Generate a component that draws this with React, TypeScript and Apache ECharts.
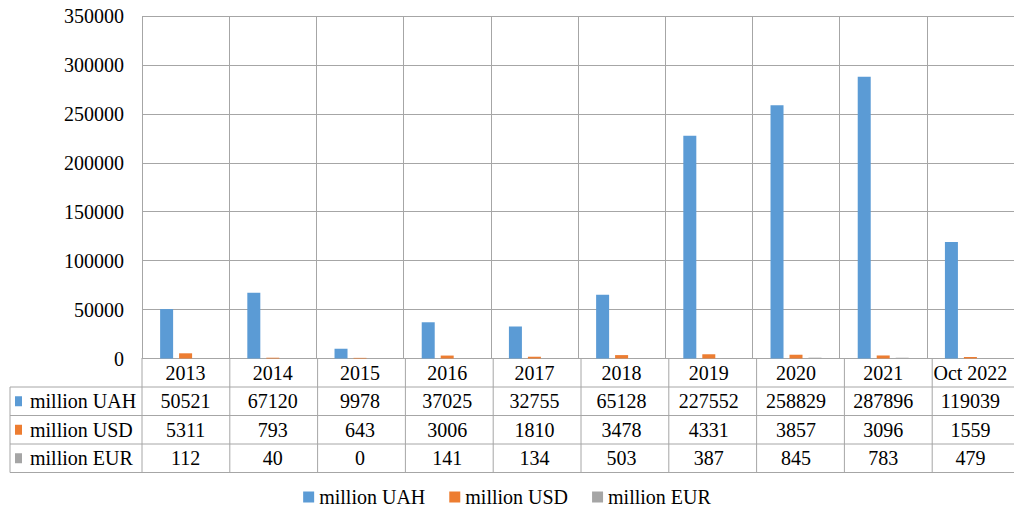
import React, { useEffect, useRef } from "react";
import * as echarts from "echarts";

const categories = ["2013", "2014", "2015", "2016", "2017", "2018", "2019", "2020", "2021", "Oct 2022"];
const seriesNames = ["million UAH", "million USD", "million EUR"];
const uah = [50521, 67120, 9978, 37025, 32755, 65128, 227552, 258829, 287896, 119039];
const usd = [5311, 793, 643, 3006, 1810, 3478, 4331, 3857, 3096, 1559];
const eur = [112, 40, 0, 141, 134, 503, 387, 845, 783, 479];
const colors = ["#5B9BD5", "#ED7D31", "#A5A5A5"];

const FONT = "Liberation Serif";
const FS = 20;
const GRID_LEFT = 142;
const GRID_TOP = 16;
const GRID_W = 878;
const AXIS_Y = 358.5;
const ROW_H = 28.5;
const TABLE_LEFT = 10;
const LINE_COLOR = "#a6a6a6";

export default function App() {
  const ref = useRef<HTMLDivElement>(null);
  useEffect(() => {
    if (!ref.current) return;
    const chart = echarts.init(ref.current, null, { renderer: "svg" });
    const allSeries = [uah, usd, eur];
    chart.setOption({
      animation: false,
      textStyle: { fontFamily: FONT },
      legend: {
        data: seriesNames,
        left: "center",
        top: 487,
        padding: 0,
        itemWidth: 11,
        itemHeight: 11,
        itemGap: 24,
        icon: "rect",
        textStyle: { fontFamily: FONT, fontSize: FS, color: "#000" },
      },
      grid: { left: GRID_LEFT, top: GRID_TOP, width: GRID_W, height: AXIS_Y - GRID_TOP },
      xAxis: {
        type: "category",
        data: categories,
        boundaryGap: true,
        axisTick: { show: false },
        axisLine: { lineStyle: { color: LINE_COLOR, width: 1 } },
        splitLine: { show: true, interval: 0, lineStyle: { color: LINE_COLOR, width: 1 } },
        axisLabel: { interval: 0, margin: 5, fontFamily: FONT, fontSize: FS, color: "#000", lineHeight: 19 },
      },
      yAxis: {
        type: "value",
        min: 0,
        max: 350000,
        interval: 50000,
        axisLine: { show: false },
        axisTick: { show: false },
        splitLine: { lineStyle: { color: LINE_COLOR, width: 1 } },
        axisLabel: { margin: 18, fontFamily: FONT, fontSize: FS, color: "#000", formatter: (v: number) => String(v) },
      },
      series: seriesNames.map((n, i) => ({
        name: n,
        type: "bar",
        data: allSeries[i],
        barWidth: 13,
        barGap: "46%",
        itemStyle: { color: colors[i] },
      })),
    });

    const graphics: any[] = [];
    const right = 1014;
    const rowsTop = AXIS_Y + ROW_H;
    for (let r = 0; r <= 3; r++) {
      const y = rowsTop + r * ROW_H;
      graphics.push({
        type: "line",
        shape: { x1: TABLE_LEFT, y1: y, x2: right, y2: y },
        style: { stroke: LINE_COLOR, lineWidth: 1 },
      });
    }
    graphics.push({
      type: "line",
      shape: { x1: TABLE_LEFT, y1: rowsTop, x2: TABLE_LEFT, y2: rowsTop + 3 * ROW_H },
      style: { stroke: LINE_COLOR, lineWidth: 1 },
    });
    const colW = GRID_W / categories.length;
    for (let c = 0; c <= categories.length; c++) {
      const x = GRID_LEFT + c * colW;
      graphics.push({
        type: "line",
        shape: { x1: x, y1: AXIS_Y, x2: x, y2: rowsTop + 3 * ROW_H },
        style: { stroke: LINE_COLOR, lineWidth: 1 },
      });
    }
    seriesNames.forEach((n, r) => {
      const cy = rowsTop + r * ROW_H + ROW_H / 2;
      graphics.push({
        type: "rect",
        shape: { x: 15, y: cy - 5, width: 7, height: 10 },
        style: { fill: colors[r] },
      });
      graphics.push({
        type: "text",
        x: 30,
        y: cy,
        style: { text: n, fontFamily: FONT, fontSize: FS, fill: "#000", verticalAlign: "middle", align: "left" },
      });
    });
    allSeries.forEach((arr, r) => {
      const cy = rowsTop + r * ROW_H + ROW_H / 2;
      arr.forEach((v, c) => {
        const px = chart.convertToPixel({ xAxisIndex: 0 }, c) as number;
        graphics.push({
          type: "text",
          x: px,
          y: cy,
          style: { text: String(v), fontFamily: FONT, fontSize: FS, fill: "#000", verticalAlign: "middle", align: "center" },
        });
      });
    });
    chart.setOption({ graphic: graphics });

    return () => chart.dispose();
  }, []);
  return <div ref={ref} style={{ width: 1014, height: 510, position: "absolute", left: 0, top: 0 }} />;
}
